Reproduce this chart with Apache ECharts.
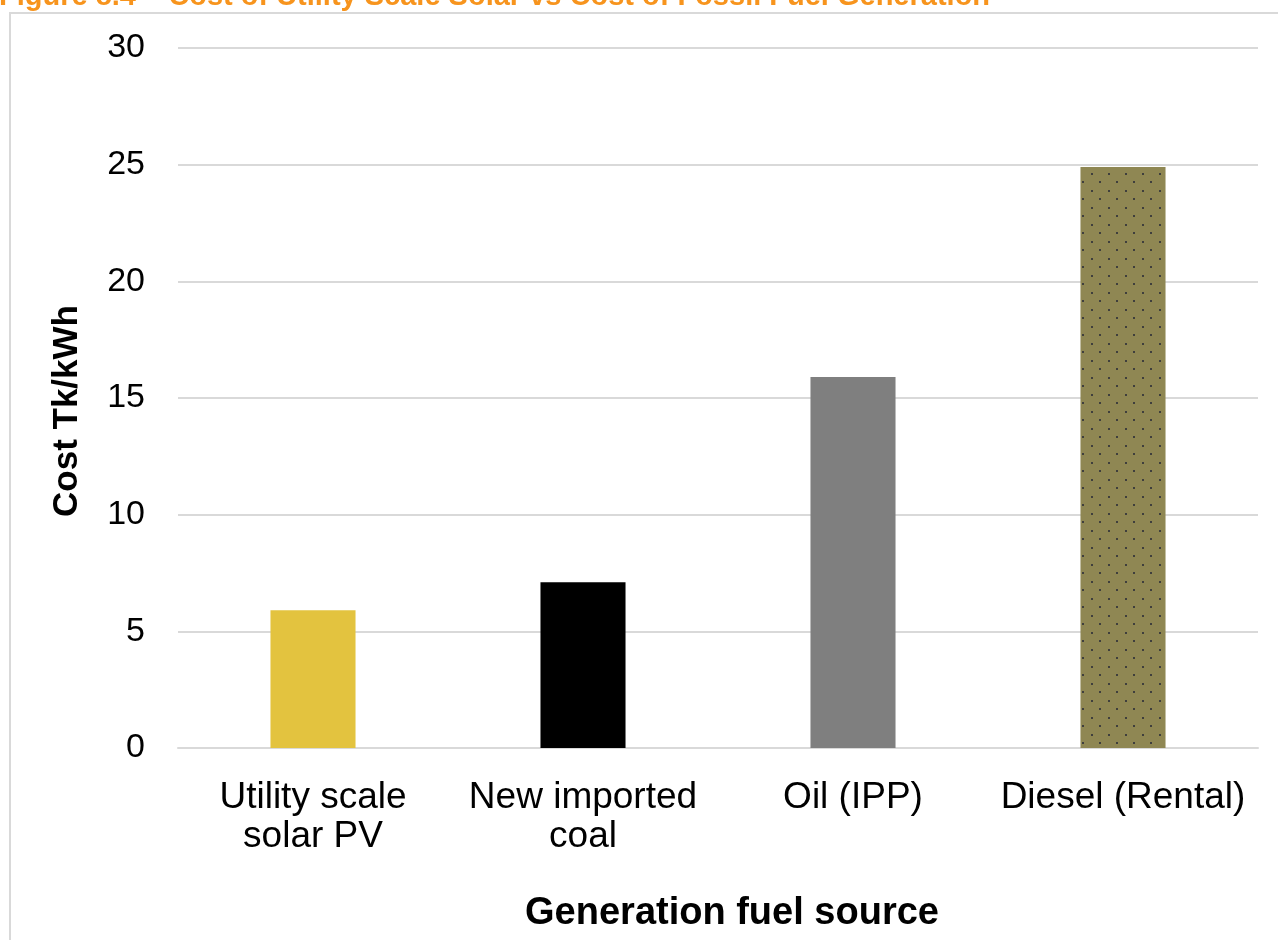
<!DOCTYPE html>
<html>
<head>
<meta charset="utf-8">
<script src="https://cdn.jsdelivr.net/npm/echarts@6/dist/echarts.min.js"></script>
<style>
html,body{margin:0;padding:0;background:#fff;}
#main{width:1278px;height:940px;}
</style>
</head>
<body>
<div id="main"></div>
<script>
const categories = ['Utility scale\nsolar PV', 'New imported\ncoal', 'Oil (IPP)', 'Diesel (Rental)'];
const costValues = [5.9, 7.1, 15.9, 24.9];
const barColors = ['#E3C33F', '#000000', '#7F7F7F', 'pattern'];
const yTicks = { min: 0, max: 30, interval: 5 };
const titleText = 'Figure 8.4 \u2013 Cost of Utility Scale Solar vs Cost of Fossil Fuel Generation';

function makeDotPattern() {
  const c = document.createElement('canvas');
  c.width = 17; c.height = 17;
  const ctx = c.getContext('2d');
  ctx.fillStyle = '#8F8753';
  ctx.fillRect(0, 0, 17, 17);
  ctx.fillStyle = '#3f3f3d';
  ctx.fillRect(3, 3, 2, 2);
  ctx.fillRect(11, 11, 2, 2);
  return c;
}
const pattern = { image: makeDotPattern(), repeat: 'repeat' };

const chart = echarts.init(document.getElementById('main'));
const font = "'Liberation Sans', Arial, sans-serif";
chart.setOption({
  animation: false,
  backgroundColor: '#ffffff',
  graphic: [
    { type: 'rect', shape: { x: 10, y: 13, width: 1300, height: 960 }, style: { fill: 'none', stroke: '#d9d9d9', lineWidth: 2 } },
    { type: 'text', x: -1, y: -3, style: { text: titleText, fill: '#F7941D', font: "bold 29px 'Liberation Sans', Arial, sans-serif", textVerticalAlign: 'middle' } }
  ],
  grid: { left: 178, right: 20, top: 48, bottom: 192, containLabel: false },
  xAxis: {
    type: 'category',
    data: categories,
    name: 'Generation fuel source',
    nameLocation: 'middle',
    nameGap: 147,
    nameTextStyle: { fontFamily: font, fontSize: 38, fontWeight: 'bold', color: '#000', padding: [0, 0, 0, 28] },
    axisLine: { show: true, lineStyle: { color: '#d9d9d9', width: 2 } },
    axisTick: { show: false },
    axisLabel: { fontFamily: font, fontSize: 37, color: '#000', lineHeight: 39, margin: 30, interval: 0 }
  },
  yAxis: {
    type: 'value',
    min: yTicks.min, max: yTicks.max, interval: yTicks.interval,
    name: 'Cost Tk/kWh',
    nameLocation: 'middle',
    nameGap: 93,
    nameTextStyle: { fontFamily: font, fontSize: 35, fontWeight: 'bold', color: '#000', padding: [0, 26, 0, 0] },
    axisLine: { show: false },
    axisTick: { show: false },
    axisLabel: { fontFamily: font, fontSize: 34, color: '#000', margin: 33 },
    splitLine: { lineStyle: { color: '#d9d9d9', width: 2 } }
  },
  series: [{
    type: 'bar',
    barWidth: '31.5%',
    data: costValues.map((v, i) => ({
      value: v,
      itemStyle: { color: barColors[i] === 'pattern' ? pattern : barColors[i] }
    }))
  }]
});
</script>
</body>
</html>
